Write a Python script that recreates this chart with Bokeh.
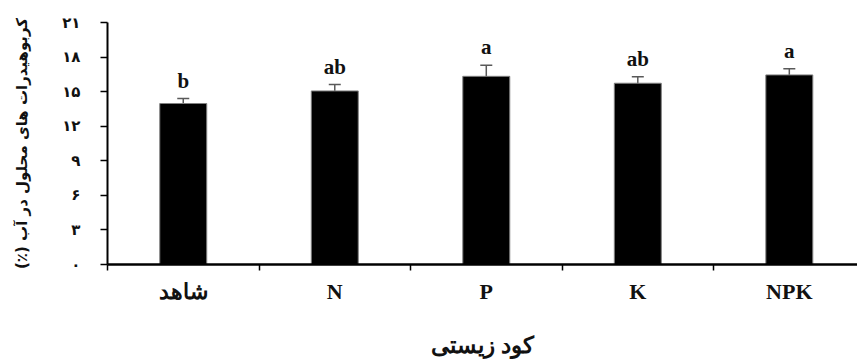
from bokeh.plotting import figure
from bokeh.models import (ColumnDataSource, FixedTicker, Range1d, Whisker, TeeHead, LabelSet)
from bokeh.embed import file_html
from bokeh.resources import INLINE

categories = ["شاهد", "N", "P", "K", "NPK"]
values = [13.97, 15.06, 16.33, 15.73, 16.45]
errors = [0.43, 0.55, 0.95, 0.56, 0.53]
letters = ["b", "ab", "a", "ab", "a"]
y_ticks = [0, 3, 6, 9, 12, 15, 18, 21]
y_tick_labels = ["۰", "۳", "۶", "۹", "۱۲", "۱۵", "۱۸", "۲۱"]
x_title = "کود زیستی"
y_title = "\u200fکربوهیدرات های محلول در آب (٪)\u200f"

xs = [i + 0.5 for i in range(len(categories))]
src = ColumnDataSource(dict(
    x=xs, top=values,
    upper=[v + e for v, e in zip(values, errors)],
    lower=[v - e for v, e in zip(values, errors)],
    letter=letters,
))

p = figure(width=857, height=360, output_backend="svg", toolbar_location=None,
           x_range=Range1d(0, 4.95), y_range=Range1d(0, 21),
           min_border_left=107, min_border_top=22, min_border_right=0, min_border_bottom=96)
p.outline_line_color = None
p.xgrid.grid_line_color = None
p.ygrid.grid_line_color = None

p.vbar(x="x", top="top", width=0.31, bottom=0, source=src,
       fill_color="black", line_color="#808080", line_width=1)

w = Whisker(base="x", upper="upper", lower="lower", source=src,
            line_color="#595959", line_width=1.5,
            upper_head=TeeHead(size=12, line_color="#595959", line_width=1.5),
            lower_head=TeeHead(size=12, line_color="#595959", line_width=1.5))
p.add_layout(w)

labels = LabelSet(x="x", y="upper", text="letter", source=src, y_offset=6,
                  text_align="center", text_baseline="bottom",
                  text_font="Liberation Serif", text_font_style="bold",
                  text_font_size="21px", text_color="#111111")
p.add_layout(labels)

# x axis
xa = p.xaxis[0]
xa.ticker = FixedTicker(ticks=xs, minor_ticks=[0, 1, 2, 3, 4, 5])
xa.major_label_overrides = {x: c for x, c in zip(xs, categories)}
xa.major_tick_line_color = None
xa.minor_tick_line_color = "black"
xa.minor_tick_line_width = 1.5
xa.minor_tick_in = 0
xa.minor_tick_out = 6
xa.axis_line_width = 2.5
xa.axis_line_color = "black"
xa.major_label_standoff = 8
xa.major_label_text_font = "Liberation Serif"
xa.major_label_text_font_style = "bold"
xa.major_label_text_font_size = "22px"
xa.major_label_text_color = "#111111"
xa.axis_label = x_title
xa.axis_label_text_font = "Liberation Serif"
xa.axis_label_text_font_style = "bold"
xa.axis_label_text_font_size = "23px"
xa.axis_label_text_color = "#111111"
xa.axis_label_standoff = 26

# y axis
ya = p.yaxis[0]
ya.ticker = FixedTicker(ticks=y_ticks)
ya.major_label_overrides = {t: l for t, l in zip(y_ticks, y_tick_labels)}
ya.minor_tick_line_color = None
ya.major_tick_in = 0
ya.major_tick_out = 7
ya.major_tick_line_width = 1.5
ya.axis_line_width = 2
ya.axis_line_color = "black"
ya.major_label_standoff = 20
ya.major_label_text_font = "DejaVu Sans"
ya.major_label_text_font_style = "bold"
ya.major_label_text_font_size = "15px"
ya.major_label_text_color = "#111111"
ya.axis_label = y_title
ya.axis_label_text_font = "DejaVu Sans"
ya.axis_label_text_font_style = "bold"
ya.axis_label_text_font_size = "15px"
ya.axis_label_text_color = "#111111"
ya.axis_label_standoff = 28

open("out.html", "w").write(file_html(p, INLINE))
